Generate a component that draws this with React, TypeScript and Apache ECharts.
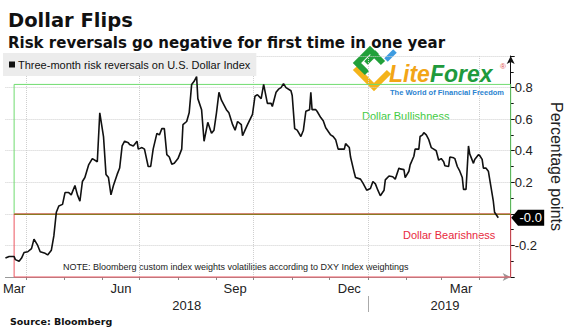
import React, { useEffect, useRef } from 'react';
import * as echarts from 'echarts';

const seriesName = 'Three-month risk reversals on U.S. Dollar Index';

const dates = [
  '2018-03-15','2018-03-18','2018-03-22','2018-03-23','2018-03-26','2018-03-28','2018-03-30',
  '2018-04-02','2018-04-05','2018-04-07','2018-04-10','2018-04-12','2018-04-16','2018-04-18','2018-04-21','2018-04-23','2018-04-25','2018-04-27','2018-04-30',
  '2018-05-02','2018-05-05','2018-05-07','2018-05-10','2018-05-12','2018-05-14','2018-05-16','2018-05-18','2018-05-21','2018-05-24','2018-05-28','2018-05-30',
  '2018-06-02','2018-06-04','2018-06-06','2018-06-08','2018-06-10','2018-06-13','2018-06-15','2018-06-17','2018-06-19','2018-06-22','2018-06-23','2018-06-26','2018-06-29','2018-06-30',
  '2018-07-03','2018-07-05','2018-07-08','2018-07-10','2018-07-12','2018-07-15','2018-07-17','2018-07-19','2018-07-21','2018-07-23','2018-07-25','2018-07-27','2018-07-29',
  '2018-08-01','2018-08-04','2018-08-05','2018-08-08','2018-08-10','2018-08-12','2018-08-14','2018-08-16','2018-08-17','2018-08-20','2018-08-22','2018-08-25','2018-08-28','2018-08-30',
  '2018-09-01','2018-09-03','2018-09-05','2018-09-09','2018-09-11','2018-09-14','2018-09-16','2018-09-18','2018-09-21','2018-09-22','2018-09-24','2018-09-26','2018-09-30',
  '2018-10-02','2018-10-04','2018-10-07','2018-10-09','2018-10-12','2018-10-15','2018-10-16','2018-10-19','2018-10-21','2018-10-23','2018-10-25','2018-10-27','2018-10-31',
  '2018-11-01','2018-11-03','2018-11-05','2018-11-08','2018-11-10','2018-11-12','2018-11-15','2018-11-16','2018-11-17','2018-11-20','2018-11-21','2018-11-24','2018-11-26','2018-11-28',
  '2018-12-02','2018-12-04','2018-12-06','2018-12-08','2018-12-10','2018-12-13','2018-12-14','2018-12-17','2018-12-18','2018-12-21','2018-12-22','2018-12-26','2018-12-28','2018-12-31',
  '2019-01-03','2019-01-05','2019-01-07','2019-01-09','2019-01-11','2019-01-14','2019-01-15','2019-01-18','2019-01-21','2019-01-23','2019-01-26','2019-01-27','2019-01-30','2019-01-31',
  '2019-02-03','2019-02-04','2019-02-07','2019-02-08','2019-02-11','2019-02-12','2019-02-14','2019-02-15','2019-02-17','2019-02-19','2019-02-21','2019-02-23','2019-02-25','2019-02-27',
  '2019-03-01','2019-03-03','2019-03-04','2019-03-07','2019-03-08','2019-03-11','2019-03-12','2019-03-14','2019-03-16','2019-03-18','2019-03-19','2019-03-21','2019-03-23','2019-03-24','2019-03-27','2019-03-28','2019-03-31',
  '2019-04-01','2019-04-03','2019-04-04','2019-04-06','2019-04-08','2019-04-10','2019-04-12','2019-04-13','2019-04-16',
];

const values = [
  -0.28, -0.27, -0.27, -0.29, -0.30, -0.28, -0.245,
  -0.24, -0.22, -0.16, -0.20, -0.24, -0.25, -0.26, -0.23, -0.14, 0.01, 0.05, 0.06,
  0.135, 0.135, 0.12, 0.18, 0.12, 0.08, 0.205, 0.23, 0.31, 0.35, 0.33, 0.64,
  0.49, 0.25, 0.23, 0.12, 0.18, 0.25, 0.29, 0.43, 0.46, 0.45, 0.44, 0.43, 0.46, 0.41,
  0.42, 0.41, 0.30, 0.30, 0.41, 0.51, 0.50, 0.54, 0.54, 0.375, 0.36, 0.315, 0.32,
  0.35, 0.41, 0.565, 0.585, 0.64, 0.82, 0.84, 0.87, 0.73, 0.66, 0.46, 0.58, 0.51, 0.53,
  0.64, 0.77, 0.72, 0.66, 0.64, 0.565, 0.53, 0.585, 0.565, 0.495, 0.53, 0.565, 0.63,
  0.745, 0.755, 0.73, 0.82, 0.70, 0.70, 0.68, 0.77, 0.79, 0.80, 0.825, 0.80, 0.78,
  0.75, 0.54, 0.53, 0.49, 0.53, 0.65, 0.66, 0.77, 0.66, 0.66, 0.65, 0.61, 0.59, 0.545,
  0.50, 0.49, 0.47, 0.41, 0.41, 0.41, 0.445, 0.42, 0.36, 0.26, 0.23, 0.22, 0.195, 0.15,
  0.16, 0.205, 0.19, 0.15, 0.115, 0.15, 0.215, 0.24, 0.235, 0.22, 0.29, 0.285, 0.28, 0.23,
  0.27, 0.31, 0.365, 0.41, 0.41, 0.49, 0.50, 0.515, 0.50, 0.47, 0.42, 0.41, 0.40, 0.34,
  0.35, 0.33, 0.305, 0.30, 0.36, 0.355, 0.35, 0.30, 0.27, 0.23, 0.155, 0.155, 0.43, 0.38, 0.32, 0.345, 0.375,
  0.37, 0.345, 0.29, 0.29, 0.27, 0.175, 0.08, 0.01, -0.025,
];

const xMin = '2018-03-15';
const xMax = '2019-04-26';
const monthTicks = [
  '2018-04-01','2018-05-01','2018-06-01','2018-07-01','2018-08-01','2018-09-01','2018-10-01',
  '2018-11-01','2018-12-01','2019-01-01','2019-02-01','2019-03-01','2019-04-01',
];
const quarterLines = ['2018-04-01','2018-07-01','2018-10-01','2019-01-01','2019-04-01'];
const monthLabelDates = ['2018-03-22','2018-06-16','2018-09-16','2018-12-17','2019-03-17'];
const monthNames = ['Jan','Feb','Mar','Apr','May','Jun','Jul','Aug','Sep','Oct','Nov','Dec'];
const yearLabelDates = ['2018-08-08','2019-03-04'];
const yearDividers = ['2019-01-01'];
const yTicks = { min: -0.4, max: 1.0, interval: 0.2 };
const hiddenYLabels = [-0.4, 0, 1.0];
const bullBox = { start: '2018-03-22', top: 0.82, bottom: 0 };
const bearBox = { start: '2018-03-22', top: 0, bottom: -0.4 };

const ts = (s: string) => {
  const [y, m, d] = s.split('-').map(Number);
  return Date.UTC(y, m - 1, d);
};

const NARROW = "'Liberation Sans', Arial, sans-serif";
const BOLD = "'DejaVu Sans', sans-serif";

export default function App() {
  const ref = useRef<HTMLDivElement>(null);
  useEffect(() => {
    document.body.style.margin = '0';
    if (!ref.current) return;
    const chart = echarts.init(ref.current, null, { renderer: 'svg' });
    const lastValue = values[values.length - 1];
    const baseX = {
      type: 'value' as const,
      min: ts(xMin),
      max: ts(xMax),
      position: 'bottom' as const,
      scale: true,
    };
    const option: any = {
      animation: false,
      backgroundColor: '#ffffff',
      textStyle: { fontFamily: NARROW },
      title: [
        { text: 'Dollar Flips', left: 3, top: 5, textStyle: { fontFamily: BOLD, fontWeight: 'bold', fontSize: 19.5, color: '#111' } },
        { text: 'Risk reversals go negative for first time in one year', left: 3, top: 30, textStyle: { fontFamily: BOLD, fontWeight: 'bold', fontSize: 15, color: '#111' } },
        { text: 'Source: Bloomberg', left: 5, top: 311, textStyle: { fontFamily: BOLD, fontWeight: 'bold', fontSize: 9.5, color: '#111' } },
      ],
      legend: {
        left: 3,
        top: 53,
        backgroundColor: '#ececec',
        padding: [6, 6, 6, 6],
        itemWidth: 6,
        itemHeight: 6,
        itemGap: 0,
        icon: 'rect',
        selectedMode: false,
        textStyle: { fontSize: 11, color: '#111', fontFamily: NARROW, padding: [0, 0, 0, -2] },
        data: [seriesName],
      },
      grid: { left: 5, right: 57, top: 56, bottom: 50, containLabel: false },
      xAxis: [
        {
          ...baseX,
          axisLine: { show: true, onZero: false, lineStyle: { color: '#999', width: 1 }, symbol: ['none', 'arrow'], symbolSize: [6, 8] },
          axisTick: { show: true, customValues: monthTicks.map(ts), length: 3, lineStyle: { color: '#888' } },
          axisLabel: {
            customValues: monthLabelDates.map(ts),
            formatter: (v: number) => monthNames[new Date(v).getUTCMonth()],
            color: '#222', fontSize: 13, margin: 5, fontFamily: NARROW,
          },
          splitLine: { show: false },
        },
        {
          ...baseX,
          axisLine: { show: false },
          axisTick: { show: false, customValues: quarterLines.map(ts) },
          axisLabel: { show: false, customValues: quarterLines.map(ts) },
          splitLine: { show: true, lineStyle: { type: 'dotted', color: '#cfcfcf', width: 1 } },
        },
        {
          ...baseX,
          offset: 19,
          axisLine: { show: false },
          axisTick: { show: true, customValues: yearDividers.map(ts), length: 16, lineStyle: { color: '#aaa' } },
          axisLabel: {
            customValues: yearLabelDates.map(ts),
            formatter: (v: number) => String(new Date(v).getUTCFullYear()),
            color: '#222', fontSize: 13, margin: 3, fontFamily: NARROW,
          },
          splitLine: { show: false },
        },
      ],
      yAxis: {
        type: 'value',
        position: 'right',
        min: yTicks.min,
        max: yTicks.max,
        interval: yTicks.interval,
        axisLine: { show: true, onZero: false, lineStyle: { color: '#111', width: 1 }, symbol: ['none', 'arrow'], symbolSize: [6, 8] },
        axisTick: { show: true, length: 4, lineStyle: { color: '#111' } },
        minorTick: { show: true, splitNumber: 2, length: 3, lineStyle: { color: '#111' } },
        axisLabel: {
          formatter: (v: number) => (hiddenYLabels.some((h) => Math.abs(h - v) < 1e-9) ? '' : v.toFixed(1)),
          color: '#222', fontSize: 13, margin: 4, fontFamily: NARROW,
        },
        splitLine: { show: true, lineStyle: { type: 'dotted', color: '#cfcfcf', width: 1 } },
        name: 'Percentage points',
        nameLocation: 'middle',
        nameRotate: -90,
        nameGap: 33,
        nameTextStyle: { fontSize: 16, color: '#222', fontFamily: NARROW },
      },
      series: [
        {
          name: seriesName,
          type: 'line',
          xAxisIndex: 0,
          data: dates.map((d, i) => [ts(d), values[i]]),
          showSymbol: false,
          clip: false,
          itemStyle: { color: '#111' },
          lineStyle: { color: '#111', width: 1.6 },
          z: 5,
          markArea: {
            silent: true,
            itemStyle: { color: 'rgba(0,0,0,0)', borderWidth: 1 },
            data: [
              [
                { xAxis: ts(bullBox.start), yAxis: bullBox.top, itemStyle: { color: 'rgba(0,0,0,0)', borderColor: '#6fdc6f', borderWidth: 1 } },
                { xAxis: ts(xMax), yAxis: bullBox.bottom },
              ],
              [
                { xAxis: ts(bearBox.start), yAxis: bearBox.top, itemStyle: { color: 'rgba(0,0,0,0)', borderColor: '#ec5560', borderWidth: 1 } },
                { xAxis: ts(xMax), yAxis: bearBox.bottom },
              ],
            ],
          },
          markLine: {
            silent: true,
            symbol: ['none', 'none'],
            label: { show: false },
            lineStyle: { color: '#8a7a22', width: 1.2, type: 'solid' },
            data: [[{ coord: [ts(bullBox.start), 0] }, { coord: [ts(xMax), 0] }]],
          },
          markPoint: {
            silent: true,
            data: [
              {
                coord: [ts(xMax), lastValue],
                symbol: 'path://M0,8 L7,0 L34,0 L34,16 L7,16 Z',
                symbolSize: [33, 16],
                symbolKeepAspect: false,
                symbolOffset: [17, 0],
                itemStyle: { color: '#000' },
                label: {
                  show: true,
                  position: 'inside',
                  offset: [3, 0],
                  formatter: lastValue.toFixed(1),
                  color: '#fff',
                  fontSize: 13,
                  fontFamily: NARROW,
                },
              },
            ],
          },
        },
      ],
      graphic: [
        { type: 'text', left: 362, top: 110, silent: true, style: { text: 'Dollar Bullishness', fill: '#3fcb3f', font: `11px ${NARROW}` } },
        { type: 'text', left: 403, top: 229, silent: true, style: { text: 'Dollar Bearishness', fill: '#e8293d', font: `11px ${NARROW}` } },
        { type: 'text', left: 63, top: 262, silent: true, style: { text: 'NOTE: Bloomberg custom index weights volatilities according to DXY Index weightings', fill: '#222', font: `9px ${NARROW}` } },
        {
          type: 'group',
          silent: true,
          children: [
            { type: 'polyline', shape: { points: [[355, 68], [374, 87], [389, 72]] }, style: { stroke: '#f4b41a', lineWidth: 6, fill: null } },
            { type: 'polyline', shape: { points: [[367, 73], [357, 63], [370, 50], [383, 63]] }, style: { stroke: '#22a03a', lineWidth: 6, fill: null } },
            { type: 'line', shape: { x1: 366, y1: 63, x2: 377, y2: 52 }, style: { stroke: '#22a03a', lineWidth: 5 } },
            { type: 'line', shape: { x1: 386, y1: 60, x2: 395, y2: 51 }, style: { stroke: '#3d9be0', lineWidth: 5 } },
            {
              type: 'text', x: 389, y: 65,
              style: {
                text: '{a|Lite}{b|Forex}',
                rich: {
                  a: { fill: '#f2a516', fontSize: 23, lineHeight: 18, fontWeight: 'bold', fontStyle: 'italic', fontFamily: NARROW },
                  b: { fill: '#1f9a3c', fontSize: 23, lineHeight: 18, fontWeight: 'bold', fontStyle: 'italic', fontFamily: NARROW },
                },
              },
            },
            { type: 'text', x: 500, y: 62, style: { text: '®', fill: '#e0524f', font: `8px ${NARROW}` } },
            { type: 'text', x: 390, y: 88, style: { text: 'The World of Financial Freedom', fill: '#2b83d0', font: `bold 7.5px ${NARROW}` } },
          ],
        },
      ],
    };
    chart.setOption(option);
    return () => chart.dispose();
  }, []);
  return <div ref={ref} style={{ position: 'fixed', left: 0, top: 0, width: 572, height: 327, background: '#fff' }} />;
}
